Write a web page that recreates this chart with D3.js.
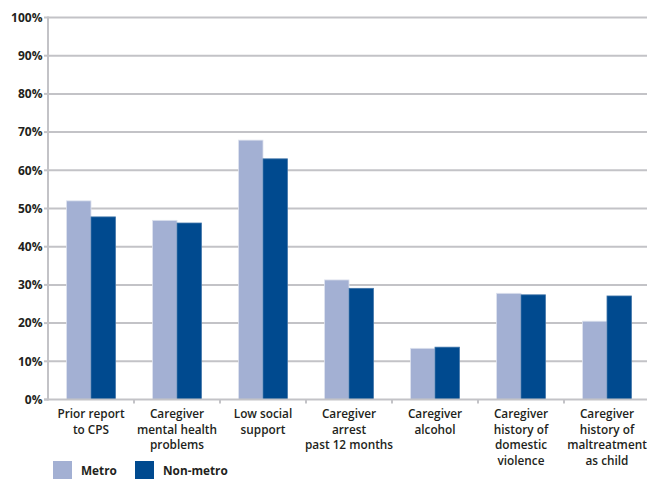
<!DOCTYPE html>
<html><head><meta charset="utf-8">
<script src="https://cdn.jsdelivr.net/npm/d3@7/dist/d3.min.js"></script>
<style>
html,body{margin:0;padding:0;background:#fff;}
svg{display:block;}
text{font-family:"Open Sans",sans-serif;fill:#231f20;}
</style></head><body>
<svg id="c" width="647" height="479"></svg>
<script>
const categories = [
  ["Prior report","to CPS"],
  ["Caregiver","mental health","problems"],
  ["Low social","support"],
  ["Caregiver","arrest","past 12 months"],
  ["Caregiver","alcohol"],
  ["Caregiver","history of","domestic","violence"],
  ["Caregiver","history of","maltreatment","as child"]
];
const seriesNames = ["Metro","Non-metro"];
const metro    = [52.0, 46.9, 67.9, 31.3, 13.4, 27.8, 20.5];
const nonMetro = [47.8, 46.2, 63.0, 29.1, 13.7, 27.4, 27.1];
const yTicks = [0,10,20,30,40,50,60,70,80,90,100];
const colors = ["#a3b0d3","#004a8f"];

(function(){
const svg = d3.select("#c");
const mLeft = 48, mRight = 650, mTop = 17.5, mBottom = 399.5;
const x = d3.scaleBand().domain(d3.range(categories.length)).range([mLeft,mRight]).padding(0);
const y = d3.scaleLinear().domain([0,100]).range([mBottom,mTop]);
const inner = d3.scaleBand().domain([0,1]).range([0, x.bandwidth()]).paddingInner(0).paddingOuter(0.762);

// gridlines
svg.append("g").selectAll("line").data(yTicks.filter(d=>d>0)).join("line")
  .attr("x1",mLeft).attr("x2",647).attr("y1",d=>y(d)).attr("y2",d=>y(d))
  .attr("stroke","#c3c3c7").attr("stroke-width",2);

// y axis ticks
svg.append("g").selectAll("line").data(yTicks).join("line")
  .attr("x1",mLeft-4).attr("x2",mLeft).attr("y1",d=>y(d)).attr("y2",d=>y(d))
  .attr("stroke","#c3c3c7").attr("stroke-width",2);

// bars
const data = categories.map((c,i)=>[metro[i],nonMetro[i]]);
const g = svg.append("g").selectAll("g").data(data).join("g")
  .attr("transform",(d,i)=>`translate(${x(i)},0)`);
g.selectAll("rect").data(d=>d.map((v,j)=>({v,j}))).join("rect")
  .attr("x",d=>inner(d.j)).attr("width",inner.bandwidth())
  .attr("y",d=>y(d.v)).attr("height",d=>mBottom-y(d.v))
  .attr("fill",d=>colors[d.j])
  .attr("stroke",d=>d.j===0?"#dde2ee":"#3f74a8").attr("stroke-width",0.8);

// axes lines
svg.append("line").attr("x1",mLeft).attr("x2",mLeft).attr("y1",mTop-1).attr("y2",mBottom+1)
  .attr("stroke","#c3c3c7").attr("stroke-width",2);
svg.append("line").attr("x1",mLeft-4).attr("x2",647).attr("y1",mBottom).attr("y2",mBottom)
  .attr("stroke","#c3c3c7").attr("stroke-width",2);
// x ticks at category boundaries
svg.append("g").selectAll("line").data(d3.range(1,categories.length)).join("line")
  .attr("x1",i=>x(i)).attr("x2",i=>x(i)).attr("y1",mBottom).attr("y2",mBottom+4)
  .attr("stroke","#c3c3c7").attr("stroke-width",2);

// y labels
svg.append("g").selectAll("text").data(yTicks).join("text")
  .attr("x",42.5).attr("y",d=>y(d)).attr("dy","0.35em")
  .attr("text-anchor","end").attr("font-size",12).attr("font-weight",700)
  .text(d=>d+"%");

// category labels
const cl = svg.append("g").selectAll("text").data(categories).join("text")
  .attr("text-anchor","middle").attr("font-size",11.8).attr("font-weight",600)
  .attr("transform",(d,i)=>`translate(${x(i)+x.bandwidth()/2},418)`);
cl.selectAll("tspan").data(d=>d).join("tspan")
  .attr("x",0).attr("y",(d,k)=>k*15.7).text(d=>d);

// legend
const lg = svg.append("g").selectAll("g").data(seriesNames).join("g")
  .attr("transform",(d,i)=>`translate(${i===0?53:135},461)`);
lg.append("rect").attr("width",19).attr("height",18).attr("fill",(d,i)=>colors[i]);
lg.append("text").attr("x",28).attr("y",14).attr("font-size",11.8).attr("font-weight",700).text(d=>d);
})();
</script>
</body></html>
